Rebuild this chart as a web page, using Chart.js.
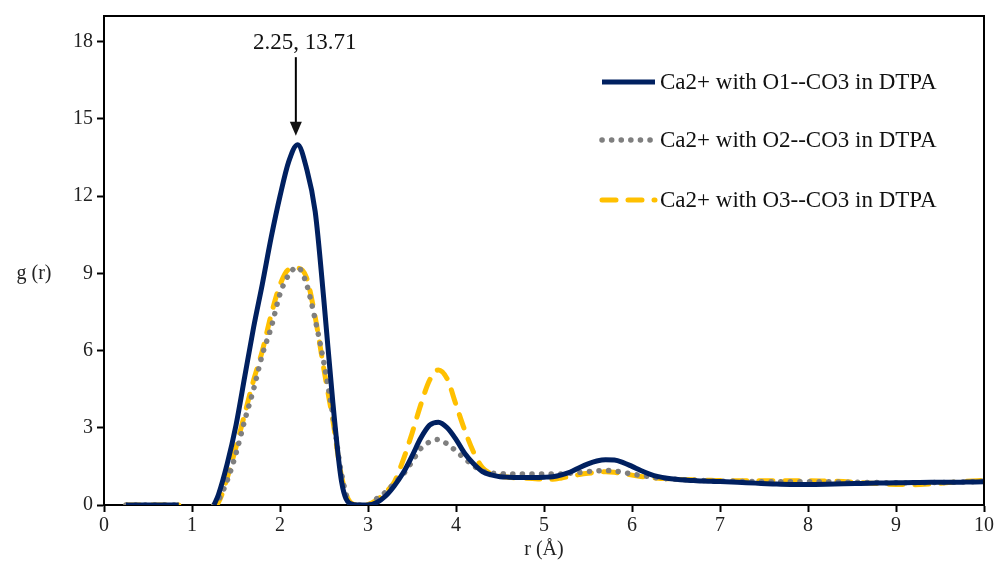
<!DOCTYPE html>
<html>
<head>
<meta charset="utf-8">
<script src="https://cdn.jsdelivr.net/npm/chart.js@4"></script>
<style>
  html, body { margin: 0; padding: 0; background: #fff; }
  #wrap { width: 996px; height: 571px; }
</style>
</head>
<body>
<div id="wrap"><canvas id="rdfChart"></canvas></div>
<script>
// r (Å) sample points; 1.0 is a break in the curves
const rValues = [0.25, 0.4, 0.55, 0.7, 0.85, 1.0,
  1.25, 1.3, 1.4, 1.5, 1.6, 1.7, 1.8, 1.9, 2.0, 2.1, 2.2, 2.3, 2.4, 2.5, 2.6, 2.7, 2.8, 2.9,
  3.0, 3.1, 3.2, 3.3, 3.4, 3.5, 3.6, 3.7, 3.8, 3.9, 4.0, 4.1, 4.2, 4.3, 4.4, 4.5, 4.6, 4.7, 4.8, 4.9,
  5.0, 5.1, 5.2, 5.3, 5.4, 5.5, 5.6, 5.7, 5.8, 5.9, 6.0, 6.1, 6.2, 6.3, 6.4, 6.5, 6.6, 6.7, 6.8, 6.9,
  7.0, 7.2, 7.4, 7.6, 7.8, 8.0, 8.2, 8.4, 8.6, 8.8, 9.0, 9.2, 9.4, 9.6, 9.8, 10.0];

const gO1 = [0, 0, 0, 0, 0, null,
  0, 0.4, 1.6, 3.1, 5.0, 6.9, 8.6, 10.4, 12.0, 13.35, 14.0, 13.1, 11.4, 7.9, 4.0, 0.9, 0.05, 0,
  0, 0.1, 0.35, 0.75, 1.25, 1.9, 2.6, 3.1, 3.22, 3.0, 2.55, 2.0, 1.6, 1.3, 1.17, 1.1, 1.08, 1.07, 1.07, 1.07,
  1.08, 1.1, 1.17, 1.28, 1.45, 1.6, 1.71, 1.76, 1.75, 1.65, 1.5, 1.34, 1.2, 1.1, 1.04, 1.0, 0.97, 0.95, 0.93, 0.92,
  0.91, 0.88, 0.85, 0.82, 0.8, 0.8, 0.81, 0.83, 0.84, 0.85, 0.86, 0.87, 0.88, 0.88, 0.89, 0.9];

const gO2 = [0, 0, 0, 0, 0, null,
  0, 0.2, 0.95, 2.0, 3.3, 4.5, 5.85, 6.9, 8.2, 8.95, 9.24, 8.6, 7.2, 5.5, 3.5, 1.2, 0.05, 0,
  0, 0.25, 0.5, 0.85, 1.2, 1.68, 2.2, 2.45, 2.55, 2.37, 2.1, 1.8, 1.52, 1.32, 1.24, 1.22, 1.2, 1.2, 1.2, 1.2,
  1.2, 1.2, 1.21, 1.23, 1.26, 1.3, 1.33, 1.34, 1.32, 1.27, 1.2, 1.15, 1.1, 1.05, 1.02, 1.0, 0.98, 0.96, 0.95, 0.94,
  0.93, 0.92, 0.91, 0.9, 0.9, 0.9, 0.9, 0.89, 0.88, 0.87, 0.86, 0.86, 0.87, 0.88, 0.9, 0.92];

const gO3 = [0, 0, 0, 0, 0, null,
  0, 0.1, 1.05, 2.25, 3.55, 4.85, 6.0, 7.4, 8.55, 9.15, 9.2, 8.85, 7.3, 5.25, 3.3, 1.1, 0.1, 0,
  0.02, 0.2, 0.5, 0.9, 1.75, 2.78, 3.9, 4.85, 5.25, 4.9, 3.9, 2.9, 2.05, 1.45, 1.22, 1.13, 1.08, 1.05, 1.04, 1.02,
  1.0, 1.0, 1.05, 1.12, 1.18, 1.23, 1.27, 1.29, 1.27, 1.22, 1.16, 1.11, 1.07, 1.04, 1.02, 1.0, 0.99, 0.98, 0.97, 0.96,
  0.95, 0.94, 0.94, 0.94, 0.94, 0.94, 0.93, 0.91, 0.87, 0.83, 0.8, 0.79, 0.82, 0.87, 0.92, 0.96];

const seriesNames = ['Ca2+ with O1--CO3 in DTPA', 'Ca2+ with O2--CO3 in DTPA', 'Ca2+ with O3--CO3 in DTPA'];
const xTicks = [0, 1, 2, 3, 4, 5, 6, 7, 8, 9, 10];
const yTicks = [0, 3, 6, 9, 12, 15, 18];
const peakLabel = '2.25, 13.71';
const peakR = 2.18;

const SERIF = '"Liberation Serif", "Times New Roman", serif';

function toPoints(ys) {
  return rValues.map((r, i) => ({ x: r, y: ys[i] }));
}

const styles = [
  { color: '#002060', dash: [], cap: 'butt', width: 5 },
  { color: '#7f7f7f', dash: [0.1, 9.5], cap: 'round', width: 5.5 },
  { color: '#FFC000', dash: [14, 12], cap: 'round', width: 5 }
];

const extras = {
  id: 'extras',
  afterDraw(chart) {
    const c = chart.ctx;
    const a = chart.chartArea;
    const xs = chart.scales.x, ys = chart.scales.y;
    c.save();
    // frame top/right
    c.strokeStyle = '#000';
    c.lineWidth = 2;
    c.beginPath();
    c.moveTo(a.left, a.top);
    c.lineTo(a.right, a.top);
    c.lineTo(a.right, a.bottom);
    c.stroke();

    // axis titles
    c.fillStyle = '#222';
    c.font = '20px ' + SERIF;
    c.textBaseline = 'middle';
    c.textAlign = 'center';
    c.fillText('g (r)', 34, ys.getPixelForValue(9));
    c.fillText('r (Å)', (a.left + a.right) / 2, 550);

    // peak annotation
    const px = xs.getPixelForValue(peakR);
    c.font = '23px ' + SERIF;
    c.fillStyle = '#111';
    c.fillText(peakLabel, xs.getPixelForValue(2.28), ys.getPixelForValue(17.95));
    const y0 = ys.getPixelForValue(17.4), y1 = ys.getPixelForValue(14.35);
    c.lineWidth = 2;
    c.beginPath();
    c.moveTo(px, y0);
    c.lineTo(px, y1 - 12);
    c.stroke();
    c.beginPath();
    c.moveTo(px - 6, y1 - 14);
    c.lineTo(px + 6, y1 - 14);
    c.lineTo(px, y1);
    c.closePath();
    c.fill();

    // legend
    const rows = [82, 140, 200];
    c.textAlign = 'left';
    c.font = '23px ' + SERIF;
    seriesNames.forEach((name, i) => {
      const s = styles[i];
      c.strokeStyle = s.color;
      c.lineWidth = s.width;
      c.lineCap = s.cap;
      c.setLineDash(s.dash);
      c.beginPath();
      c.moveTo(602, rows[i]);
      c.lineTo(655, rows[i]);
      c.stroke();
      c.setLineDash([]);
      c.fillStyle = '#111';
      c.fillText(name, 660, rows[i] + 1);
    });
    c.restore();
  }
};

new Chart(document.getElementById('rdfChart'), {
  type: 'line',
  data: {
    datasets: seriesNames.map((name, i) => ({
      label: name,
      data: toPoints([gO1, gO2, gO3][i]),
      borderColor: styles[i].color,
      borderWidth: styles[i].width,
      borderDash: styles[i].dash,
      borderCapStyle: styles[i].cap,
      pointRadius: 0,
      fill: false,
      spanGaps: false,
      cubicInterpolationMode: 'monotone'
    }))
  },
  options: {
    responsive: true,
    maintainAspectRatio: false,
    animation: false,
    layout: { padding: { top: 15, right: 11, left: 0, bottom: 0 } },
    plugins: {
      legend: { display: false },
      tooltip: { enabled: false }
    },
    scales: {
      x: {
        type: 'linear',
        min: 0,
        max: 10,
        afterBuildTicks: (s) => { s.ticks = xTicks.map(v => ({ value: v })); },
        afterFit: (s) => { s.height = 66; },
        border: { display: true, color: '#000', width: 2 },
        grid: { drawOnChartArea: false, drawTicks: true, tickLength: 7, color: '#000', tickWidth: 2 },
        ticks: { color: '#222', font: { family: SERIF, size: 20 }, padding: 2, maxRotation: 0 }
      },
      y: {
        type: 'linear',
        min: 0,
        max: 19,
        afterBuildTicks: (s) => { s.ticks = yTicks.map(v => ({ value: v })); },
        afterFit: (s) => { s.width = 104; },
        border: { display: true, color: '#000', width: 2 },
        grid: { drawOnChartArea: false, drawTicks: true, tickLength: 7, color: '#000', tickWidth: 2 },
        ticks: { color: '#222', font: { family: SERIF, size: 20 }, padding: 4 }
      }
    }
  },
  plugins: [extras]
});
</script>
</body>
</html>
